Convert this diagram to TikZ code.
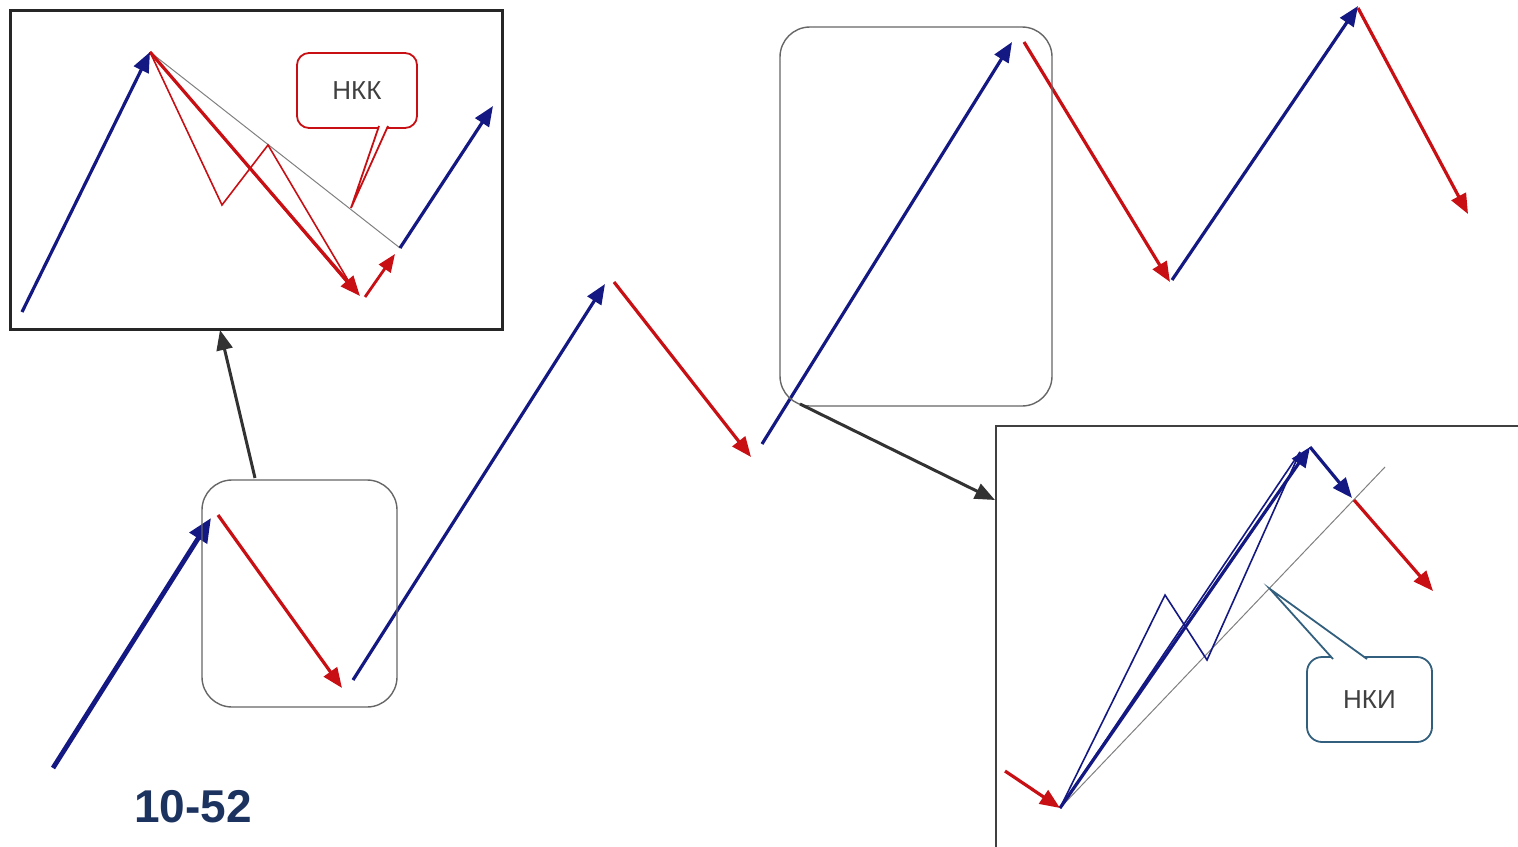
\documentclass[tikz,border=0pt]{standalone}
\usepackage{fontspec}
\setmainfont{Liberation Sans}
\usetikzlibrary{arrows.meta}
\definecolor{navy}{RGB}{20,24,130}
\definecolor{crimson}{RGB}{200,16,20}
\definecolor{conn}{RGB}{50,50,50}
\definecolor{calloutblue}{RGB}{50,95,125}
\definecolor{labelblue}{RGB}{28,50,95}
\tikzset{
  tip/.style={-{Triangle[length=10pt,width=8pt]}},
  upmove/.style={navy,line width=1.6pt,tip},
  downmove/.style={crimson,line width=1.6pt,tip},
  thinred/.style={crimson,line width=0.8pt,line join=miter},
  thinblue/.style={navy,line width=0.8pt,line join=miter},
  trendline/.style={gray,line width=0.5pt},
  linkarrow/.style={conn,line width=1.5pt,-{Triangle[length=10pt,width=8pt]}},
  zoombox/.style={draw=gray!80!black,line width=0.7pt,rounded corners=15pt},
  insetframe/.style={draw=black!85,line width=1.5pt},
  callout/.style={rounded corners=6pt,fill=white,line width=0.9pt,font=\fontsize{13}{15}\selectfont,text=black!75}
}
\begin{document}
\begin{tikzpicture}[x=0.5pt,y=-0.5pt]
\useasboundingbox (0,0) rectangle (1518,846);

% ---------- main zigzag ----------
\coordinate (m0) at (53,768);
\coordinate (m1) at (211,518);
\coordinate (m1b) at (218,515);
\coordinate (m2) at (342,688);
\coordinate (m2b) at (353,680);
\coordinate (m3) at (605,284);
\coordinate (m3b) at (614,282);
\coordinate (m4) at (751,457);
\coordinate (m4b) at (762,444);
\coordinate (m5) at (1012,42);
\coordinate (m5b) at (1024,42);
\coordinate (m6) at (1170,282);
\coordinate (m6b) at (1172,280);
\coordinate (m7) at (1358,6);
\coordinate (m7b) at (1358,8);
\coordinate (m8) at (1468,214);

\draw[upmove,line width=2.4pt,-{Triangle[length=12pt,width=10pt]}] (m0) -- (m1);
\draw[downmove] (m1b) -- (m2);
\draw[upmove] (m2b) -- (m3);
\draw[downmove] (m3b) -- (m4);
\draw[upmove] (m4b) -- (m5);
\draw[downmove] (m5b) -- (m6);
\draw[upmove] (m6b) -- (m7);
\draw[downmove] (m7b) -- (m8);

% zoom boxes
\node[zoombox,minimum width=97.5pt,minimum height=113.5pt] (zb1) at (299.5,593.5) {};
\node[zoombox,minimum width=136pt,minimum height=189.5pt] (zb2) at (916,216.5) {};

% ---------- top-left inset ----------
\node[insetframe,minimum width=246pt,minimum height=159.5pt] (inset1) at (256,169.5) {};
\coordinate (a0) at (22,312);
\coordinate (a1) at (150,52);
\coordinate (a2) at (360,296);
\coordinate (a2t) at (355,292);
\coordinate (z1) at (222,205);
\coordinate (z2) at (268,145);
\coordinate (a3) at (365,297);
\coordinate (a4) at (395,254);
\coordinate (a5) at (400,248);
\coordinate (a6) at (493,106);

\draw[trendline] (a1) -- (a5);
\draw[thinred] (a1) -- (z1) -- (z2) -- (a2t);
\draw[thinred] (a1) -- (a2t);
\draw[downmove] (a1) -- (a2);
\draw[downmove,line width=1.4pt,-{Triangle[length=9pt,width=7pt]}] (a3) -- (a4);
\draw[upmove] (a0) -- (a1);
\draw[upmove] (a5) -- (a6);

\node[callout,draw=crimson,minimum width=60pt,minimum height=37.5pt] (nkk) at (357,90.5) {НКК};
\coordinate (nkkp1) at (379,126);
\coordinate (nkkp2) at (388,126);
\coordinate (nkktip) at (351,208);
\fill[white] (nkkp1) -- (nkktip) -- (nkkp2) -- cycle;
\draw[crimson,line width=0.9pt,line join=miter] (nkkp1) -- (nkktip) -- (nkkp2);

% ---------- bottom-right inset ----------
\draw[draw=black!75,line width=1pt] (1530,426) -- (996,426) -- (996,860);
\coordinate (inset2) at (996,426);
\coordinate (b0) at (1005,771);
\coordinate (b1) at (1060,808);
\coordinate (b2) at (1310,447);
\coordinate (b2t) at (1300,452);
\coordinate (y1) at (1165,595);
\coordinate (y2) at (1207,660);
\coordinate (b3) at (1352,498);
\coordinate (b3b) at (1354,500);
\coordinate (b4) at (1433,591);
\coordinate (t1) at (1385,467);

\draw[trendline] (b1) -- (t1);
\draw[thinblue] (b1) -- (y1) -- (y2) -- (b2t);
\draw[thinblue] (b1) -- (b2t);
\draw[upmove] (b1) -- (b2);
\draw[upmove] (b2) -- (b3);
\draw[downmove] (b3b) -- (b4);
\draw[downmove] (b0) -- (b1);

\node[callout,draw=calloutblue,rounded corners=7.5pt,minimum width=62.5pt,minimum height=42.5pt] (nki) at (1369.5,699.5) {НКИ};
\coordinate (nkip1) at (1333,659);
\coordinate (nkip2) at (1367,659);
\coordinate (nkitip) at (1270,589);
\fill[white] (nkip1) -- (nkitip) -- (nkip2) -- cycle;
\draw[calloutblue,line width=0.9pt,line join=miter] (nkip1) -- (nkitip) -- (nkip2);

% ---------- link arrows ----------
\coordinate (l1s) at (255,478);
\coordinate (l1e) at (220,330);
\coordinate (l2s) at (800,404);
\coordinate (l2e) at (995,500);
\draw[linkarrow] (l1s) -- (l1e);
\draw[linkarrow] (l2s) -- (l2e);

% label
\node[font=\bfseries\fontsize{23}{27}\selectfont,text=labelblue] (lbl) at (193,807) {10-52};
\end{tikzpicture}
\end{document}
